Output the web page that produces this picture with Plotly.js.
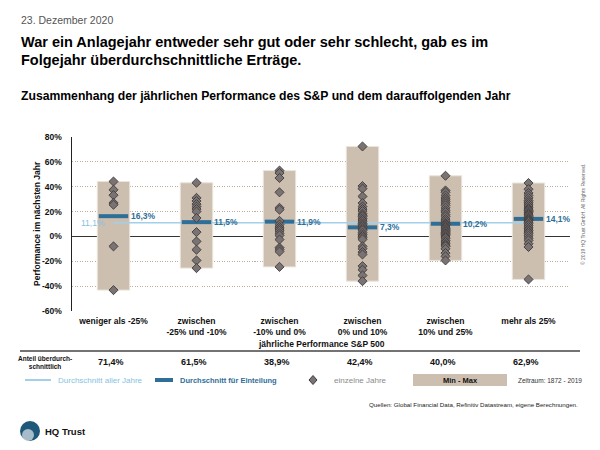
<!DOCTYPE html>
<html><head><meta charset="utf-8">
<script src="https://cdn.plot.ly/plotly-3.0.1.min.js"></script>
<style>html,body{margin:0;padding:0;background:#fff}#chart{width:600px;height:450px}</style>
</head><body><div id="chart"></div>
<script>
// ---------- data ----------
const categories = ["weniger als -25%", "zwischen<br>-25% und -10%", "zwischen<br>-10% und 0%",
                    "zwischen<br>0% und 10%", "zwischen<br>10% und 25%", "mehr als 25%"];
const yearsLtM25 = [44.2, 37.5, 33.2, 27, 25.5, -8, -43.2];
const yearsM25toM10 = [43.2, 31, 28.5, 26, 24, 22, 20, 14.8, 3.5, -4, -10.7, -19.3, -25.5];
const yearsM10to0 = [53, 51, 47, 35.5, 23, 21.5, 12.5, 9.5, 7.5, 6, 4.5, 2.5, 0.8, -2.5, -9, -10.5, -12.2, -24.5];
const years0to10 = [72.4, 40.5, 38.4, 32.2, 26.8, 24, 22, 20.4, 18.3, 17, 16.1, 14.5, 13.2, 11.8,
                    10.4, 9.4, 8.2, 7, 5.8, 4.8, 3, 1.5, 0.3, -1, -2.4, -8, -9.9, -12.6, -14.5, -23.9, -26.8, -31.4, -36];
const years10to25 = [48.8, 37, 35.5, 33, 31, 29.5, 28, 26.5, 25, 23, 21, 19.5, 17.5, 16, 14, 12.5,
                     11, 10, 9.5, 8.5, 7.5, 6.5, 5.5, 4.8, 4, 3, 2.2, 1.5, 0.5, -0.5, -1.5, -3.2, -4.5, -5.9, -7, -8, -10, -13.4, -16, -19.3];
const yearsGt25 = [43, 38, 35, 33, 31, 29, 27.5, 26, 24.5, 23, 22, 21, 20, 19, 18, 17, 16, 15, 14, 13, 12.5, 11.5,
                   10.2, 9, 7.5, 6, 4.8, 3.5, 2.2, 0.5, -1.5, -3.2, -5.9, -8.5, -34.6];
const groupAverages = [16.3, 11.5, 11.9, 7.3, 10.2, 14.1];
const overallAverage = 11.1;
const shareAboveAverage = ["71,4%", "61,5%", "38,9%", "42,4%", "40,0%", "62,9%"];
const yTicks = [-60, -40, -20, 0, 20, 40, 60, 80];

const groups = [yearsLtM25, yearsM25toM10, yearsM10to0, years0to10, years10to25, yearsGt25];

// ---------- styling ----------
const NARROW = '"Liberation Sans Narrow", "Liberation Sans", Arial, sans-serif';
const SANS = '"Liberation Sans", Arial, Helvetica, sans-serif';
const BEIGE = '#cdbfb0';
const DARKBLUE = '#2f6e97';
const LIGHTBLUE = '#a3cfe9';
const LIGHTBLUE_TXT = '#86bfe1';

const L = 72, R = 570, T = 137, B = 311;
const PX = x => (x - L) / (R - L);
const PY = y => (B - y) / (B - T);
const fmt = v => v.toFixed(1).replace('.', ',') + '%';

const idx = categories.map((c, i) => i);
const mins = groups.map(g => Math.min(...g));
const maxs = groups.map(g => Math.max(...g));

const diamondsX = [], diamondsY = [];
groups.forEach((g, i) => g.forEach(v => { diamondsX.push(i); diamondsY.push(v); }));

const traces = [
  { type: 'bar', x: idx, base: mins, y: maxs.map((m, i) => m - mins[i]), width: 0.39,
    marker: { color: BEIGE, line: { color: '#ebe4dc', width: 1 } }, hoverinfo: 'skip' },
  { type: 'scatter', mode: 'lines', x: [idx[0], idx[idx.length - 1]], y: [overallAverage, overallAverage],
    line: { color: LIGHTBLUE, width: 1.5 }, hoverinfo: 'skip' },
  { type: 'scatter', mode: 'markers', x: idx, y: groupAverages,
    marker: { symbol: 'line-ew', size: 21, line: { color: DARKBLUE, width: 4 } }, hoverinfo: 'skip' },
  { type: 'scatter', mode: 'markers', x: diamondsX, y: diamondsY,
    marker: { symbol: 'diamond', size: 7, color: '#7a7373', line: { color: '#3f3b3b', width: 0.9 } }, hoverinfo: 'skip' }
];

const annotations = [];
function ann(text, x, y, o) {
  annotations.push(Object.assign({ text, x: PX(x), y: PY(y), xref: 'paper', yref: 'paper',
    showarrow: false, xanchor: 'left', yanchor: 'middle',
    font: { family: SANS, size: 9, color: '#111' } }, o || {}));
}

// header
ann('23. Dezember 2020', 19, 20, { font: { family: SANS, size: 10.5, color: '#555' } });
ann('War ein Anlagejahr entweder sehr gut oder sehr schlecht, gab es im', 19, 42, { font: { family: SANS, size: 14.5, color: '#000', weight: 'bold' } });
ann('Folgejahr überdurchschnittliche Erträge.', 19, 60, { font: { family: SANS, size: 14.5, color: '#000', weight: 'bold' } });
ann('Zusammenhang der jährlichen Performance des S&P und dem darauffolgenden Jahr', 19, 96, { font: { family: SANS, size: 12.2, color: '#000', weight: 'bold' } });

// axis titles
ann('Performance im nächsten Jahr', 37, 224, { textangle: -90, xanchor: 'center', font: { family: NARROW, size: 8.5, color: '#111', weight: 'bold' } });
ann('jährliche Performance S&P 500', 321, 344, { xanchor: 'center', font: { family: NARROW, size: 8.5, color: '#111', weight: 'bold' } });

// group average labels (data coords)
groupAverages.forEach((v, i) => {
  annotations.push({ text: fmt(v), x: i + 0.19, y: v, xref: 'x', yref: 'y', showarrow: false,
    xanchor: 'left', yanchor: 'middle', font: { family: NARROW, size: 8.5, color: DARKBLUE, weight: 'bold' } });
});
annotations.push({ text: fmt(overallAverage), x: -0.08, y: overallAverage, xref: 'x', yref: 'y', showarrow: false,
  xanchor: 'right', yanchor: 'middle', font: { family: NARROW, size: 8.5, color: LIGHTBLUE_TXT } });

// table row
ann('Anteil überdurch-<br>schnittlich', 45, 362, { xanchor: 'center', font: { family: NARROW, size: 6.5, color: '#111', weight: 'bold' } });
shareAboveAverage.forEach((s, i) => {
  annotations.push({ text: s, x: i - 0.035, y: PY(362), xref: 'x', yref: 'paper', showarrow: false,
    xanchor: 'center', yanchor: 'middle', font: { family: NARROW, size: 9, color: '#111', weight: 'bold' } });
});

// legend
ann('Durchschnitt aller Jahre', 56, 380, { font: { family: NARROW, size: 8, color: LIGHTBLUE_TXT } });
ann('Durchschnitt für Einteilung', 178, 380, { font: { family: NARROW, size: 7.5, color: DARKBLUE, weight: 'bold' } });
ann('einzelne Jahre', 332, 380, { font: { family: NARROW, size: 8, color: '#8a8a8a' } });
ann('Min - Max', 460, 380, { xanchor: 'center', font: { family: NARROW, size: 7.5, color: '#111', weight: 'bold' } });
ann('Zeitraum: 1872 - 2019', 516, 380, { font: { family: NARROW, size: 6.5, color: '#333' } });

// sources, logo, copyright
ann('Quellen: Global Financial Data, Refinitiv Datastream, eigene Berechnungen.', 580, 404, { xanchor: 'right', font: { family: NARROW, size: 6.2, color: '#222' } });
ann('HQ Trust', 43, 431, { font: { family: SANS, size: 9.5, color: '#111', weight: 'bold' } });
ann('© 2019 HQ Trust GmbH. All Rights Reserved.', 583, 215, { xanchor: 'center', textangle: -90, font: { family: NARROW, size: 5, color: '#666' } });

const shapes = [
  // table line
  { type: 'line', xref: 'paper', yref: 'paper', x0: PX(20), x1: PX(580), y0: PY(351), y1: PY(351), line: { color: '#444', width: 1.5 } },
  // legend items
  { type: 'line', xref: 'paper', yref: 'paper', x0: PX(25), x1: PX(51), y0: PY(380), y1: PY(380), line: { color: LIGHTBLUE, width: 2 } },
  { type: 'line', xref: 'paper', yref: 'paper', x0: PX(155), x1: PX(173), y0: PY(380), y1: PY(380), line: { color: DARKBLUE, width: 4 } },
  { type: 'path', xref: 'paper', yref: 'paper',
    path: `M ${PX(313)} ${PY(375.5)} L ${PX(317)} ${PY(380)} L ${PX(313)} ${PY(384.5)} L ${PX(309)} ${PY(380)} Z`,
    fillcolor: '#7a7373', line: { color: '#3f3b3b', width: 1 } },
  { type: 'rect', xref: 'paper', yref: 'paper', x0: PX(413), x1: PX(507), y0: PY(386), y1: PY(374), fillcolor: BEIGE, line: { width: 0 } },
  // logo
  { type: 'circle', xref: 'paper', yref: 'paper', x0: PX(20), x1: PX(40), y0: PY(441), y1: PY(421), fillcolor: '#1f5878', line: { width: 0 } },
  { type: 'circle', xref: 'paper', yref: 'paper', x0: PX(22), x1: PX(34), y0: PY(441), y1: PY(429), fillcolor: '#c9d6de', line: { width: 0 }, opacity: 0.8 }
];

const layout = {
  width: 600, height: 450, autosize: false, showlegend: false,
  margin: { l: L, r: 600 - R, t: T, b: 450 - B, pad: 0 },
  paper_bgcolor: '#fff', plot_bgcolor: '#fff', barmode: 'overlay',
  xaxis: { range: [-0.5, 5.5], tickvals: idx, ticktext: categories, showgrid: false, zeroline: false,
    showline: false, ticks: '', ticklabelstandoff: 3,
    tickfont: { family: NARROW, size: 8.5, color: '#111', weight: 'bold' }, fixedrange: true },
  yaxis: { range: [-60, 80], tickvals: yTicks, ticktext: yTicks.map(v => v + '%'), showgrid: true,
    gridcolor: '#bfae9c', griddash: '1px,1.5px', gridwidth: 1, zeroline: true, zerolinecolor: '#333', zerolinewidth: 1.5,
    showline: true, linecolor: '#222', linewidth: 1.5, ticks: '', ticklabelstandoff: 7,
    tickfont: { family: NARROW, size: 8.5, color: '#111', weight: 'bold' }, fixedrange: true },
  annotations, shapes
};

Plotly.newPlot('chart', traces, layout, { staticPlot: true, displayModeBar: false });
</script></body></html>
